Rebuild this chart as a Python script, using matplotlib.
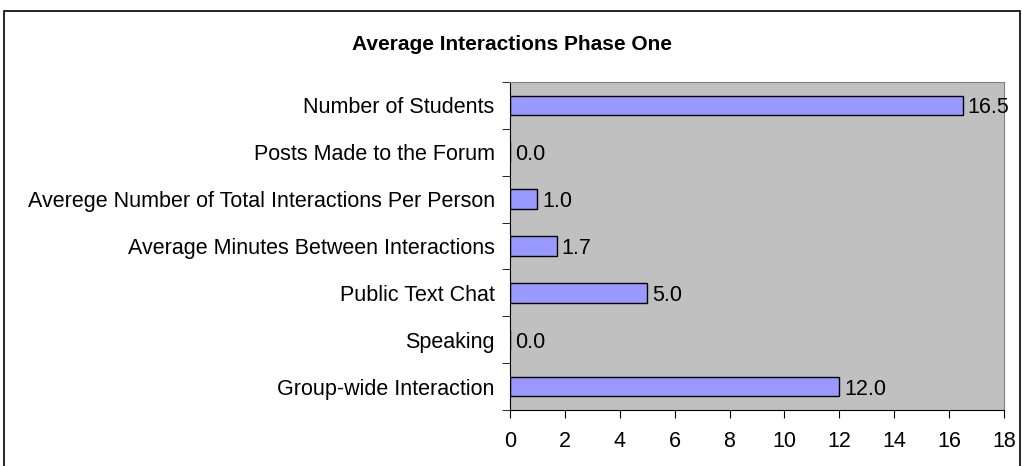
import matplotlib.pyplot as plt
from matplotlib.patches import Rectangle

# data, top to bottom as shown in the chart
categories = ["Number of Students", "Posts Made to the Forum",
              "Averege Number of Total Interactions Per Person",
              "Average Minutes Between Interactions", "Public Text Chat",
              "Speaking", "Group-wide Interaction"]
values = [16.5, 0.0, 1.0, 1.7, 5.0, 0.0, 12.0]
xticks = [0, 2, 4, 6, 8, 10, 12, 14, 16, 18]

plt.rcParams['font.family'] = ['Liberation Sans', 'DejaVu Sans']

W, H = 1022, 466
fs = 15.5
fig = plt.figure(figsize=(W / 100, H / 100), dpi=100)
ax = fig.add_axes([510 / W, 1 - 410 / H, (1004 - 510) / W, (410 - 82) / H])

n = len(categories)
pos = list(range(n - 1, -1, -1))
ax.barh(pos, values, height=0.42, color='#9999FF', edgecolor='black', linewidth=1)
for p, v in zip(pos, values):
    ax.text(v + 0.18, p, f"{v:.1f}", va='center_baseline', ha='left', fontsize=fs)

ax.set_facecolor('#C0C0C0')
ax.set_xlim(0, 18)
ax.set_ylim(-0.5, n - 0.5)
ax.set_xticks(xticks)
ax.set_xticklabels([str(t) for t in xticks], fontsize=fs)
ax.set_yticks(pos)
ax.set_yticklabels(categories, fontsize=fs)
ax.tick_params(axis='y', length=0, pad=11)
ax.set_yticks([i - 0.5 for i in range(n + 1)], minor=True)
ax.tick_params(axis='y', which='minor', length=6, direction='out', color='black')
ax.tick_params(axis='x', length=6, direction='out', color='black', pad=9)
for s in ['top', 'right']:
    ax.spines[s].set_color('#808080')
for s in ['left', 'bottom']:
    ax.spines[s].set_color('black')

fig.text(512 / W, 1 - 45 / H, "Average Interactions Phase One",
         ha='center', va='center', fontsize=15, fontweight='bold')

# outer chart border (runs off the bottom of the image)
fig.patches.append(Rectangle((4 / W, -0.1), (1020 - 4) / W, 1.1 - 11 / H,
                             transform=fig.transFigure, fill=False,
                             edgecolor='black', linewidth=1.2))

fig.savefig("out.png", dpi=100)
